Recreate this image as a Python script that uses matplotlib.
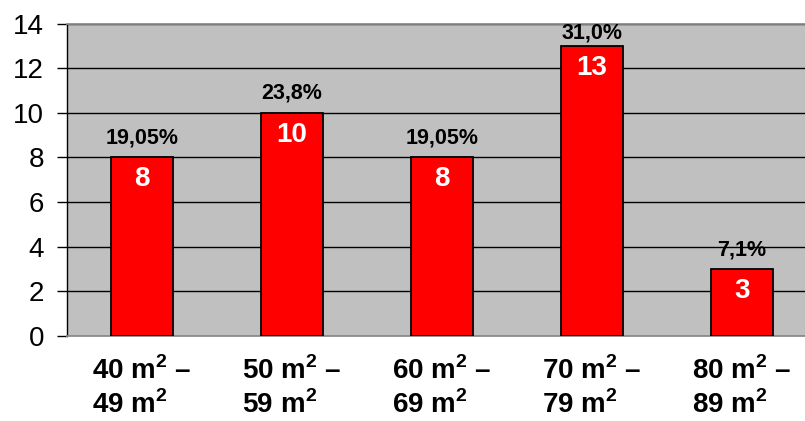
import matplotlib
matplotlib.use("Agg")
import matplotlib.pyplot as plt

# Flats grouped by floor area
categories = [r"40 m$^\mathbf{2}$ –" + "\n" + r"49 m$^\mathbf{2}$",
              r"50 m$^\mathbf{2}$ –" + "\n" + r"59 m$^\mathbf{2}$",
              r"60 m$^\mathbf{2}$ –" + "\n" + r"69 m$^\mathbf{2}$",
              r"70 m$^\mathbf{2}$ –" + "\n" + r"79 m$^\mathbf{2}$",
              r"80 m$^\mathbf{2}$ –" + "\n" + r"89 m$^\mathbf{2}$"]
counts = [8, 10, 8, 13, 3]
shares = ["19,05%", "23,8%", "19,05%", "31,0%", "7,1%"]
y_ticks = [0, 2, 4, 6, 8, 10, 12, 14]

plt.rcParams["font.family"] = ["Liberation Sans", "DejaVu Sans"]
plt.rcParams["mathtext.fontset"] = "custom"
plt.rcParams["mathtext.rm"] = "Liberation Sans"
plt.rcParams["mathtext.bf"] = "Liberation Sans:bold"

W, H, DPI = 805, 421, 100
fig = plt.figure(figsize=(W / DPI, H / DPI), dpi=DPI)
left, right, bottom, top = 67, 817, 336, 23.5
ax = fig.add_axes([left / W, (H - bottom) / H, (right - left) / W, (bottom - top) / H])

ax.set_facecolor("#C0C0C0")
x = list(range(len(categories)))
bars = ax.bar(x, counts, width=0.41, color="#FF0000", edgecolor="black",
              linewidth=1.3, zorder=3)

ax.set_xlim(-0.5, len(categories) - 0.5)
ax.set_ylim(0, 14)
ax.set_yticks(y_ticks)
ax.yaxis.grid(True, color="black", linewidth=1.0, zorder=1)
ax.set_axisbelow(True)

ax.tick_params(axis="y", labelsize=20, length=7, width=1.0, pad=9.5, color="black")
ax.tick_params(axis="x", length=0, pad=15)
ax.set_xticks(x)
ax.set_xticklabels(categories, fontsize=20, fontweight="bold", linespacing=1.25,
                   multialignment="left")

ax.spines["right"].set_visible(False)
ax.spines["top"].set_color("#8C8C8C")
ax.spines["top"].set_linewidth(1.3)
ax.spines["bottom"].set_color("#8C8C8C")
ax.spines["bottom"].set_linewidth(1.3)
ax.spines["left"].set_color("black")
ax.spines["left"].set_linewidth(1.0)

for xi, v, s in zip(x, counts, shares):
    # count inside the bar, near its top
    ax.annotate(str(v), (xi, v), xytext=(0, -22), textcoords="offset pixels",
                ha="center", va="center", color="white", fontsize=20,
                fontweight="bold", zorder=4)
    # share above the bar, kept inside the plot area
    room = (14 - v) * (bottom - top) / 14
    off = min(9, max(1, room - 20))
    ax.annotate(s, (xi, v), xytext=(0, off), textcoords="offset pixels",
                ha="center", va="bottom", color="black", fontsize=15.5,
                fontweight="bold", zorder=4)

fig.savefig("out.png", dpi=DPI, facecolor="white")
